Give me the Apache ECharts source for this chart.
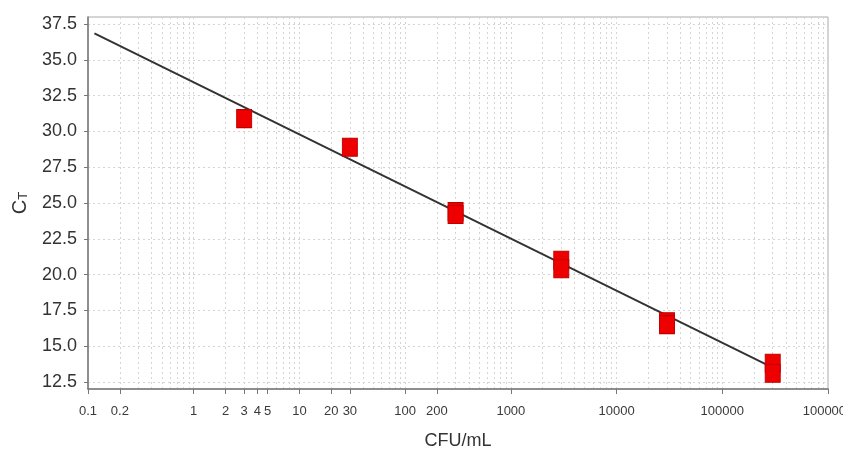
<!DOCTYPE html>
<html>
<head>
<meta charset="utf-8">
<script src="https://cdn.jsdelivr.net/npm/echarts@6/dist/echarts.min.js"></script>
<style>html,body{margin:0;padding:0;background:#fff;}#c{width:843px;height:452px;}</style>
</head>
<body>
<div id="c"></div>
<script>
// Measured replicates (CFU/mL vs Ct)
const cfu = [3, 30, 300, 300, 3000, 3000, 30000, 30000, 300000, 300000];
const ct  = [30.9, 28.9, 24.4, 24.2, 21.0, 20.4, 16.7, 16.5, 13.8, 13.1];
// Standard curve (fit line endpoints)
const fitX = [0.115, 300000];
const fitY = [36.86, 13.50];
// Tick labels
const xTickVals = [0.1, 0.2, 1, 2, 3, 4, 5, 10, 20, 30, 100, 200, 1000, 10000, 100000, 1000000];
const yTickVals = [12.5, 15.0, 17.5, 20.0, 22.5, 25.0, 27.5, 30.0, 32.5, 35.0, 37.5];
const decades = [-1, 0, 1, 2, 3, 4, 5];
const multiples = [1, 2, 3, 4, 5, 6, 7, 8, 9];

const gridLogVals = [];
decades.forEach(d => multiples.forEach(m => gridLogVals.push(Math.log10(m * Math.pow(10, d)))));
gridLogVals.push(6);
const xTickLog = xTickVals.map(v => Math.log10(v));

function xLabel(v) {
  let best = 0, bd = Infinity;
  xTickLog.forEach((t, i) => { const d = Math.abs(t - v); if (d < bd) { bd = d; best = i; } });
  return String(xTickVals[best]);
}

const FONT = 'Liberation Sans, Arial, sans-serif';
const chart = echarts.init(document.getElementById('c'), null, {renderer: 'canvas'});
chart.setOption({
  animation: false,
  backgroundColor: '#fff',
  grid: {left: 88, right: 15, top: 17, bottom: 63, show: true, borderColor: '#aaa', borderWidth: 1, backgroundColor: '#fff', containLabel: false, outerBoundsMode: 'none'},
  xAxis: [
    {type: 'log', logBase: 10, min: 0.1, max: 1000000, show: false},
    {
      type: 'value', min: -1, max: 6, position: 'bottom',
      axisLine: {show: true, onZero: false, lineStyle: {color: '#777', width: 1.5}},
      axisTick: {show: true, customValues: xTickLog, length: 5, lineStyle: {color: '#777'}},
      axisLabel: {customValues: xTickLog, formatter: xLabel, margin: 16, fontSize: 13, color: '#3a3a3a', fontFamily: FONT},
      splitLine: {show: false},
      name: 'CFU/mL', nameLocation: 'middle', nameGap: 43,
      nameTextStyle: {fontSize: 18, color: '#333', fontFamily: FONT}
    },
    {
      type: 'value', min: -1, max: 6, position: 'bottom',
      axisLine: {show: false, onZero: false},
      axisTick: {show: false, customValues: gridLogVals},
      axisLabel: {show: false},
      splitLine: {show: true, lineStyle: {type: [2, 3], color: '#d4d4d4', width: 1}}
    }
  ],
  yAxis: {
    type: 'value', min: 12, max: 38, position: 'left',
    axisLine: {show: true, onZero: false, lineStyle: {color: '#777', width: 1.5}},
    axisTick: {show: true, customValues: yTickVals, length: 4, lineStyle: {color: '#777'}},
    axisLabel: {customValues: yTickVals, formatter: v => v.toFixed(1), fontSize: 18, margin: 11, color: '#333', fontFamily: FONT},
    splitLine: {show: true, lineStyle: {type: [2, 3], color: '#d4d4d4', width: 1}},
    name: '{c|C}{t|T}', nameLocation: 'middle', nameGap: 58, nameRotate: 90,
    nameTextStyle: {
      fontFamily: FONT, color: '#333',
      rich: {c: {fontSize: 20, fontFamily: FONT, color: '#333'}, t: {fontSize: 13, fontFamily: FONT, color: '#333', padding: [6, 0, 0, 0]}}
    }
  },
  series: [
    {
      type: 'line', xAxisIndex: 0, yAxisIndex: 0, symbol: 'none', z: 2,
      lineStyle: {color: '#333', width: 2},
      data: fitX.map((x, i) => [x, fitY[i]])
    },
    {
      type: 'scatter', xAxisIndex: 0, yAxisIndex: 0, z: 3,
      symbol: 'rect', symbolSize: [15, 18],
      itemStyle: {color: '#ee0000', borderColor: '#c00000', borderWidth: 1, opacity: 1},
      data: cfu.map((x, i) => [x, ct[i]])
    }
  ]
});
</script>
</body>
</html>
